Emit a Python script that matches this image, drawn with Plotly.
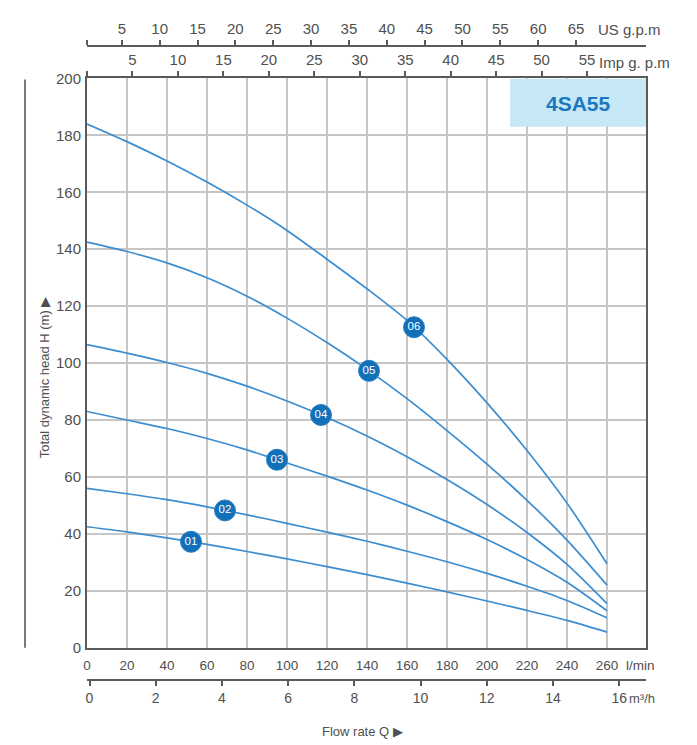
import numpy as np
import plotly.graph_objects as go

# ---- data ----
flow_lmin = [0, 20, 40, 60, 80, 100, 120, 140, 160, 180, 200, 220, 240, 260]
head_01 = [42.5, 40.7, 38.6, 36.3, 33.8, 31.2, 28.5, 25.7, 22.7, 19.6, 16.4, 13.1, 9.6, 5.5]
head_02 = [56.0, 54.1, 52.0, 49.5, 46.7, 43.7, 40.6, 37.4, 33.9, 30.2, 26.1, 21.6, 16.6, 10.5]
head_03 = [83.0, 80.0, 77.0, 73.5, 69.5, 64.9, 60.3, 55.4, 50.1, 44.3, 38.0, 31.0, 23.0, 13.0]
head_04 = [106.5, 103.5, 100.2, 96.4, 91.9, 86.7, 80.9, 74.4, 67.1, 59.1, 50.3, 40.5, 29.3, 15.5]
head_05 = [142.5, 139.2, 135.2, 130.0, 123.5, 115.8, 107.2, 97.8, 87.5, 76.3, 64.5, 51.8, 37.8, 22.0]
head_06 = [184.0, 177.8, 171.0, 163.6, 155.5, 146.6, 136.5, 126.1, 115.0, 101.3, 86.0, 69.3, 50.8, 29.5]
curve_labels = ["01", "02", "03", "04", "05", "06"]
label_flow = [52, 69, 95, 117, 141, 163.5]

lmin_ticks = [0, 20, 40, 60, 80, 100, 120, 140, 160, 180, 200, 220, 240, 260]
m3h_ticks = [0, 2, 4, 6, 8, 10, 12, 14, 16]
usgpm_ticks = [5, 10, 15, 20, 25, 30, 35, 40, 45, 50, 55, 60, 65]
impgpm_ticks = [5, 10, 15, 20, 25, 30, 35, 40, 45, 50, 55]
head_ticks = [0, 20, 40, 60, 80, 100, 120, 140, 160, 180, 200]
model_name = "4SA55"

# ---- geometry (page has an 8px body margin) ----
OFF = 8
W, H = 697 - OFF, 745 - OFF
S_LEFT, S_RIGHT = 87, 646          # plot edges in screenshot px
S_TOP_PAPER, S_BOT_PAPER = 35, 690
ML = S_LEFT - OFF
MR = W - (S_RIGHT - OFF)
MT = S_TOP_PAPER - OFF
MB = H - (S_BOT_PAPER - OFF)
PW = W - ML - MR
PH = H - MT - MB
plot_top_px, plot_bot_px = 68, 647
X_MAX = 279.5


def px_x(sx):
    return (sx - S_LEFT) / PW


def px_y(sy):
    return (S_BOT_PAPER - sy) / PH


ydom = [px_y(plot_bot_px), px_y(plot_top_px)]

line_col = "#3b8dd1"
mark_col = "#1270b8"
txt_col = "#505050"
grid_col = "#c6c6c6"
axis_col = "#5a5a5a"
FONT = "Liberation Sans, Arial, sans-serif"

heads = [head_01, head_02, head_03, head_04, head_05, head_06]

fig = go.Figure()
for hd in heads:
    fig.add_trace(go.Scatter(x=flow_lmin, y=hd, mode="lines",
                             line=dict(color=line_col, width=1.7, shape="spline", smoothing=0.8),
                             hoverinfo="skip", showlegend=False))

my = [float(np.interp(q, flow_lmin, hd)) for q, hd in zip(label_flow, heads)]
fig.add_trace(go.Scatter(x=label_flow, y=my, mode="markers+text", text=curve_labels,
                         textposition="middle center",
                         textfont=dict(color="white", size=11.5, family=FONT),
                         marker=dict(size=21, color=mark_col, line=dict(color="#2a80c4", width=1)),
                         hoverinfo="skip", showlegend=False))

# conversions for secondary axes (l/min -> other units)
US = 3.785
IMP = 4.546
us0 = 0.4
us_range = [us0, us0 + X_MAX / US]
imp_range = [0, X_MAX / IMP]
m3_px = 33.11
m3_start = -(89.5 - S_LEFT) / m3_px
m3_range = [m3_start, m3_start + PW / m3_px]

tickfont = dict(family=FONT, size=13.5, color=txt_col)
topfont = dict(family=FONT, size=15, color=txt_col)

fig.update_layout(
    width=W, height=H,
    margin=dict(l=ML, r=MR, t=MT, b=MB),
    paper_bgcolor="white", plot_bgcolor="white",
    font=dict(family=FONT, color=txt_col),
    xaxis=dict(domain=[0, 1], range=[0, X_MAX], anchor="y", side="bottom",
               tickvals=lmin_ticks, ticks="", tickfont=tickfont,
               showgrid=True, gridcolor=grid_col, gridwidth=1.6, zeroline=False,
               showline=True, linecolor=axis_col, linewidth=2, mirror=True,
               ticklabelstandoff=4),
    yaxis=dict(domain=ydom, range=[0, 200], tickvals=head_ticks, ticks="",
               tickfont=dict(family=FONT, size=15, color=txt_col),
               showgrid=True, gridcolor=grid_col, gridwidth=1.6, zeroline=False,
               showline=True, linecolor=axis_col, linewidth=2, mirror=True,
               ticklabelstandoff=1),
    xaxis2=dict(overlaying="x", anchor="free", position=px_y(680), side="bottom",
                range=m3_range, tickvals=m3h_ticks, ticks="outside", ticklen=5,
                tickwidth=2, tickcolor=axis_col, tickfont=dict(family=FONT, size=14, color=txt_col),
                showgrid=False, zeroline=False, showline=True, linecolor=axis_col, linewidth=2),
    xaxis3=dict(overlaying="x", anchor="free", position=1.0, side="top",
                range=us_range, tickvals=[us0] + usgpm_ticks,
                ticktext=[""] + [str(v) for v in usgpm_ticks],
                ticks="outside", ticklen=5, tickwidth=2, tickcolor=axis_col, tickfont=topfont,
                showgrid=False, zeroline=False, showline=True, linecolor=axis_col, linewidth=2),
    xaxis4=dict(overlaying="x", anchor="y", side="top",
                range=imp_range, tickvals=[0] + impgpm_ticks,
                ticktext=[""] + [str(v) for v in impgpm_ticks],
                ticks="outside", ticklen=5, tickwidth=2, tickcolor=axis_col, tickfont=topfont,
                showgrid=False, zeroline=False, showline=True, linecolor=axis_col, linewidth=2),
)

# dummy traces so that the extra axes are registered
for ax in ["x2", "x3", "x4"]:
    fig.add_trace(go.Scatter(x=[None], y=[None], xaxis=ax, yaxis="y", mode="lines",
                             hoverinfo="skip", showlegend=False))

# model box
fig.add_shape(type="rect", xref="x", yref="y", x0=211.5, x1=X_MAX, y0=183.0, y1=200,
              fillcolor="#c6e7f6", line=dict(width=0), layer="above")
fig.add_annotation(xref="x", yref="y", x=245.5, y=191.2, text="<b>" + model_name + "</b>",
                   showarrow=False, font=dict(family=FONT, size=21, color="#1a78c0"))

# left vertical rule
fig.add_shape(type="line", xref="paper", yref="paper", x0=px_x(25), x1=px_x(25),
              y0=px_y(647), y1=px_y(69), line=dict(color="#7a7a7a", width=2))

# unit labels
fig.add_annotation(xref="paper", yref="paper", x=px_x(596), y=px_y(18), text="US g.p.m",
                   showarrow=False, xanchor="left", yanchor="middle", font=topfont)
fig.add_annotation(xref="paper", yref="paper", x=px_x(597), y=px_y(52), text="Imp g. p.m",
                   showarrow=False, xanchor="left", yanchor="middle", font=topfont)
fig.add_annotation(xref="paper", yref="paper", x=px_x(624), y=px_y(665), text="l/min",
                   showarrow=False, xanchor="left", yanchor="middle",
                   font=dict(family=FONT, size=13.5, color=txt_col))
fig.add_annotation(xref="paper", yref="paper", x=px_x(627), y=px_y(699), text="m³/h",
                   showarrow=False, xanchor="left", yanchor="middle",
                   font=dict(family=FONT, size=13, color=txt_col))
fig.add_annotation(xref="paper", yref="paper", x=px_x(320), y=px_y(732), text="Flow rate Q ▶",
                   showarrow=False, xanchor="left", yanchor="middle",
                   font=dict(family=FONT, size=13, color=txt_col))
fig.add_annotation(xref="paper", yref="paper", x=px_x(44), y=px_y(372),
                   text="Total dynamic head H (m) ▶", textangle=-90,
                   showarrow=False, xanchor="center", yanchor="middle",
                   font=dict(family=FONT, size=13, color=txt_col))

fig.write_html("out.html")
